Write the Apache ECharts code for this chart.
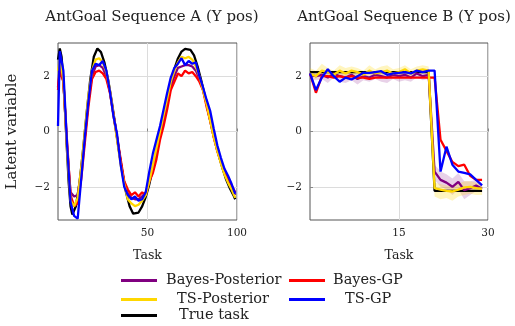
<!DOCTYPE html>
<html>
<head>
<meta charset="utf-8">
<script src="https://cdn.jsdelivr.net/npm/echarts@6/dist/echarts.min.js"></script>
<style>
  html, body { margin: 0; padding: 0; background: #fff; }
  #chart { width: 515px; height: 326px; }
</style>
</head>
<body>
<div id="chart"></div>
<script>
// ---- Sequence A (left panel) ----
const tasksA = [0, 1, 3, 5, 7, 9, 11, 13, 15, 17, 19, 21, 23, 25, 27, 29, 31, 33, 35, 37, 39, 41, 43, 45, 47, 49,
  51, 53, 55, 57, 59, 61, 63, 65, 67, 69, 71, 73, 75, 77, 79, 81, 83, 85, 87, 89, 91, 93, 95, 97, 99];
const bayesPostA = [1.6, 2.4, 1.8, -0.5, -2.2, -2.35, -2.3, -1.4, -0.2, 1.1, 2.0, 2.35, 2.4, 2.3, 2.0, 1.45, 0.6, -0.25, -1.1, -1.85,
  -2.25, -2.4, -2.45, -2.45, -2.35, -2.2, -1.8, -1.3, -0.8, -0.15, 0.4, 1.0, 1.6, 2.0, 2.3, 2.35, 2.4, 2.4, 2.35, 2.2,
  1.9, 1.5, 1.0, 0.4, -0.2, -0.7, -1.1, -1.5, -1.8, -2.05, -2.3];
const bayesGpA = [1.5, 2.2, 1.8, -0.3, -2.3, -2.7, -2.6, -1.7, -0.4, 0.9, 1.9, 2.15, 2.2, 2.1, 1.9, 1.4, 0.6, -0.2, -1.0, -1.8,
  -2.1, -2.3, -2.2, -2.35, -2.2, -2.3, -1.8, -1.5, -1.0, -0.3, 0.2, 0.8, 1.5, 1.8, 2.1, 2.0, 2.2, 2.1, 2.15, 2.0,
  1.8, 1.5, 0.9, 0.4, -0.2, -0.7, -1.1, -1.45, -1.7, -1.95, -2.2];
const tsPostA = [2.2, 2.6, 1.9, -0.6, -2.5, -2.7, -2.4, -1.3, 0.0, 1.3, 2.2, 2.6, 2.65, 2.5, 2.15, 1.5, 0.6, -0.3, -1.2, -1.9,
  -2.45, -2.6, -2.7, -2.65, -2.5, -2.3, -1.8, -1.2, -0.6, 0.0, 0.6, 1.2, 1.8, 2.2, 2.5, 2.7, 2.65, 2.7, 2.6, 2.35,
  2.0, 1.5, 1.0, 0.4, -0.2, -0.7, -1.15, -1.55, -1.85, -2.1, -2.4];
const tsGpA = [0.2, 2.9, 2.2, -0.4, -2.55, -3.05, -3.15, -1.7, -0.2, 1.1, 2.2, 2.45, 2.4, 2.55, 2.2, 1.45, 0.55, -0.1, -1.2, -2.0,
  -2.3, -2.45, -2.35, -2.5, -2.45, -2.2, -1.45, -0.8, -0.3, 0.2, 0.8, 1.4, 1.95, 2.3, 2.45, 2.65, 2.4, 2.55, 2.45, 2.5,
  2.0, 1.6, 1.15, 0.75, 0.1, -0.5, -0.95, -1.35, -1.6, -1.9, -2.25];
const trueTasksA = [0, 1, 2, 3, 4, 5, 6, 7, 8, 10, 12, 14, 16, 18, 20, 22, 24, 26, 28, 30, 32, 34, 36, 38, 40, 42, 43,
  45, 47, 49, 51, 53, 55, 57, 59, 61, 63, 65, 67, 69, 71, 72, 74, 76, 78, 80, 82, 84, 86, 88, 90, 92, 94, 96, 98, 99];
const trueA = [2.6, 3.0, 2.7, 1.87, 0.67, -0.67, -1.87, -2.7, -3.0, -2.7, -1.87, -0.67, 0.67, 1.87, 2.7, 3.0,
  2.87, 2.48, 1.87, 1.1, 0.22, -0.67, -1.5, -2.2, -2.7, -2.97, -3.0,
  -2.93, -2.71, -2.37, -1.91, -1.35, -0.74, -0.08, 0.57, 1.21, 1.78, 2.26, 2.64, 2.89, 2.99, 3.0,
  2.95, 2.75, 2.35, 1.85, 1.3, 0.7, 0.15, -0.4, -0.9, -1.35, -1.75, -2.05, -2.3, -2.45];

// ---- Sequence B (right panel) ----
const tasksB = [0, 1, 2, 3, 4, 5, 6, 7, 8, 9, 10, 11, 12, 13, 14, 15, 16, 17, 18, 19, 20, 21, 22, 23, 24, 25, 26, 27, 28, 29];
const trueB = [2.15, 2.15, 2.15, 2.15, 2.15, 2.15, 2.15, 2.15, 2.15, 2.15, 2.15, 2.15, 2.15, 2.15, 2.15, 2.15, 2.15, 2.15, 2.15, 2.15, 2.15,
  -2.15, -2.15, -2.15, -2.15, -2.15, -2.15, -2.15, -2.15, -2.15];
const bayesPostB = [2.05, 2.0, 2.05, 1.95, 2.1, 2.0, 1.95, 2.05, 1.9, 2.0, 1.95, 2.05, 2.0, 1.95, 2.05, 2.0, 2.05, 1.95, 2.1, 2.0, 2.05,
  -1.45, -1.75, -1.85, -2.0, -1.82, -2.12, -2.05, -1.95, -2.07];
const bayesPostLoB = [1.9, 1.85, 1.9, 1.75, 1.95, 1.8, 1.75, 1.85, 1.7, 1.85, 1.8, 1.9, 1.8, 1.75, 1.9, 1.8, 1.85, 1.8, 1.95, 1.85, 1.9,
  -1.75, -2.0, -2.1, -2.3, -2.1, -2.45, -2.3, -2.15, -2.2];
const bayesPostHiB = [2.15, 2.1, 2.15, 2.1, 2.2, 2.1, 2.1, 2.2, 2.05, 2.1, 2.1, 2.15, 2.1, 2.1, 2.15, 2.1, 2.15, 2.1, 2.2, 2.1, 2.15,
  -1.2, -1.45, -1.55, -1.7, -1.5, -1.8, -1.8, -1.75, -1.9];
const bayesGpB = [2.1, 1.4, 2.0, 2.0, 1.95, 2.0, 1.95, 2.0, 1.95, 1.95, 1.9, 1.95, 1.95, 1.95, 1.95, 1.95, 1.95, 1.95, 1.95, 1.95, 1.95,
  1.95, -0.3, -0.7, -1.1, -1.25, -1.2, -1.6, -1.75, -1.75];
const tsPostB = [2.1, 2.0, 2.2, 2.15, 2.05, 2.2, 2.1, 2.2, 2.15, 2.05, 2.2, 2.1, 2.15, 2.2, 2.1, 2.15, 2.25, 2.1, 2.2, 2.25, 2.2,
  -2.05, -2.1, -2.15, -2.17, -2.1, -2.02, -2.0, -2.05, -2.07];
const tsPostLoB = [1.95, 1.9, 2.05, 2.0, 1.9, 2.05, 1.95, 2.05, 2.0, 1.9, 2.05, 1.95, 2.0, 2.05, 1.95, 2.0, 2.1, 1.95, 2.05, 2.1, 2.05,
  -2.35, -2.45, -2.4, -2.5, -2.35, -2.3, -2.25, -2.3, -2.3];
const tsPostHiB = [2.3, 2.2, 2.45, 2.3, 2.2, 2.4, 2.3, 2.35, 2.3, 2.2, 2.4, 2.25, 2.35, 2.4, 2.25, 2.3, 2.4, 2.25, 2.35, 2.4, 2.35,
  -1.85, -1.9, -1.95, -1.95, -1.9, -1.8, -1.8, -1.85, -1.9];
const tsGpB = [2.1, 1.5, 1.95, 2.25, 2.0, 1.8, 1.95, 1.88, 2.0, 2.12, 2.12, 2.15, 2.18, 2.05, 2.1, 2.12, 2.15, 2.1, 2.2, 2.15, 2.2,
  2.2, -1.45, -0.55, -1.2, -1.45, -1.5, -1.55, -1.75, -1.95];

const yTicks = [-2, 0, 2];
const xTicksA = [50, 100];
const xTicksB = [15, 30];

const FONT = 'DejaVu Serif';
const COLORS = {
  'Bayes-Posterior': '#800080',
  'Bayes-GP': '#ff0000',
  'TS-Posterior': '#ffd700',
  'TS-GP': '#0000ff',
  'True task': '#000000'
};

const pairs = (xs, ys) => xs.map((x, i) => [x, ys[i]]);
const minus = v => (v < 0 ? '\u2212' + Math.abs(v) : String(v));

const chart = echarts.init(document.getElementById('chart'));

function lineSeries(name, xs, ys, idx) {
  return {
    name: name,
    type: 'line',
    xAxisIndex: idx,
    yAxisIndex: idx,
    data: pairs(xs, ys),
    showSymbol: false,
    symbol: 'none',
    color: COLORS[name],
    lineStyle: { width: 2.3, color: COLORS[name] },
    animation: false
  };
}

// shaded spread around a posterior line, drawn as one polygon
function bandSeries(xs, lo, hi, idx, fill) {
  return {
    type: 'custom',
    xAxisIndex: idx,
    yAxisIndex: idx,
    data: xs.map((x, i) => [x, lo[i], hi[i]]),
    silent: true,
    animation: false,
    renderItem: (params, api) => {
      if (params.dataIndex !== 0) return null;
      const upper = xs.map((x, i) => api.coord([x, hi[i]]));
      const lower = xs.map((x, i) => api.coord([x, lo[i]])).reverse();
      return {
        type: 'polygon',
        shape: { points: upper.concat(lower) },
        style: { fill: fill }
      };
    }
  };
}

function xAxis(idx, max, interval, ticks) {
  return {
    type: 'value', gridIndex: idx, min: 0, max: max, interval: interval,
    name: 'Task', nameLocation: 'middle', nameGap: 29,
    nameTextStyle: { fontFamily: FONT, fontSize: 12.5, color: '#222' },
    axisLine: { show: false },
    axisTick: { show: true, inside: true, length: 3, lineStyle: { color: '#888' }, customValues: ticks },
    axisLabel: { fontFamily: FONT, fontSize: 10.5, color: '#222', margin: 8, customValues: ticks, formatter: minus },
    splitLine: { show: true, lineStyle: { color: '#dcdcdc', width: 1 } }
  };
}

function yAxis(idx, withName) {
  return {
    type: 'value', gridIndex: idx, min: -3.2, max: 3.2,
    name: withName ? 'Latent variable' : '', nameLocation: 'middle', nameGap: 38,
    nameTextStyle: { fontFamily: FONT, fontSize: 15, color: '#222' },
    axisLine: { show: false },
    axisTick: { show: true, inside: true, length: 3, lineStyle: { color: '#888' }, customValues: yTicks },
    axisLabel: { fontFamily: FONT, fontSize: 10.5, color: '#222', margin: 8, customValues: yTicks, formatter: minus },
    splitLine: { show: true, lineStyle: { color: '#dcdcdc', width: 1 } }
  };
}

const legendItem = (name, left, top, pad) => ({
  data: [name], left: left, top: top, orient: 'horizontal', padding: 0,
  icon: 'rect', itemWidth: 36, itemHeight: 3, selectedMode: false,
  textStyle: { fontFamily: FONT, fontSize: 14.5, color: '#222', padding: [0, 0, 0, pad] }
});

const option = {
  backgroundColor: '#fff',
  animation: false,
  title: [
    { text: 'AntGoal Sequence A (Y pos)', left: 147, top: 5, textAlign: 'center',
      textStyle: { fontFamily: FONT, fontSize: 15, fontWeight: 'normal', color: '#222' } },
    { text: 'AntGoal Sequence B (Y pos)', left: 399, top: 5, textAlign: 'center',
      textStyle: { fontFamily: FONT, fontSize: 15, fontWeight: 'normal', color: '#222' } }
  ],
  grid: [
    { left: 58, top: 43, width: 179, height: 177, show: true, borderColor: '#555', borderWidth: 1, backgroundColor: 'transparent' },
    { left: 310, top: 43, width: 178, height: 177, show: true, borderColor: '#555', borderWidth: 1, backgroundColor: 'transparent' }
  ],
  xAxis: [xAxis(0, 100, 50, xTicksA), xAxis(1, 30, 15, xTicksB)],
  yAxis: [yAxis(0, true), yAxis(1, false)],
  legend: [
    legendItem('Bayes-Posterior', 121, 273, 4),
    legendItem('Bayes-GP', 289, 273, 3),
    legendItem('TS-Posterior', 121, 292, 15),
    legendItem('TS-GP', 289, 292, 15),
    legendItem('True task', 121, 308, 17)
  ],
  series: [
    bandSeries(tasksB, bayesPostLoB, bayesPostHiB, 1, 'rgba(128,0,128,0.18)'),
    bandSeries(tasksB, tsPostLoB, tsPostHiB, 1, 'rgba(255,215,0,0.25)'),
    lineSeries('True task', trueTasksA, trueA, 0),
    lineSeries('Bayes-Posterior', tasksA, bayesPostA, 0),
    lineSeries('Bayes-GP', tasksA, bayesGpA, 0),
    lineSeries('TS-Posterior', tasksA, tsPostA, 0),
    lineSeries('TS-GP', tasksA, tsGpA, 0),
    lineSeries('True task', tasksB, trueB, 1),
    lineSeries('Bayes-Posterior', tasksB, bayesPostB, 1),
    lineSeries('Bayes-GP', tasksB, bayesGpB, 1),
    lineSeries('TS-Posterior', tasksB, tsPostB, 1),
    lineSeries('TS-GP', tasksB, tsGpB, 1)
  ]
};

chart.setOption(option);
</script>
</body>
</html>
